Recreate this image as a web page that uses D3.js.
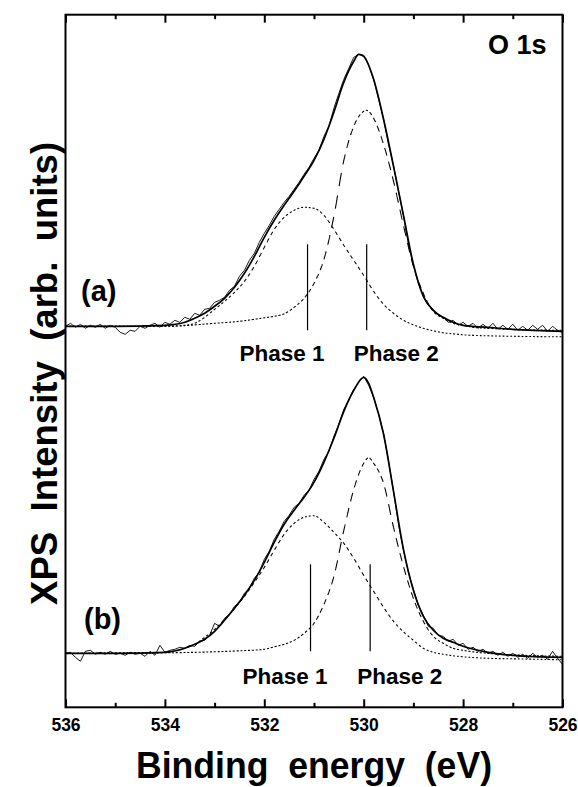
<!DOCTYPE html>
<html>
<head>
<meta charset="utf-8">
<script src="https://cdn.jsdelivr.net/npm/d3@7"></script>
<style>
  body { margin: 0; background: #fff; }
  svg { display: block; }
  text { font-family: "Liberation Sans", Arial, sans-serif; font-weight: bold; fill: #000; }
</style>
</head>
<body>
<div id="chart"></div>
<script>
// measured binding energies (eV)
var dataEnergy = [
  536.0,535.9,535.8,535.7,535.6,535.5,535.4,535.3,535.2,535.1,
  535.0,534.9,534.8,534.7,534.6,534.5,534.4,534.3,534.2,534.1,
  534.0,533.9,533.8,533.7,533.6,533.5,533.4,533.3,533.2,533.1,
  533.0,532.9,532.8,532.7,532.6,532.5,532.4,532.3,532.2,532.1,
  532.0,531.9,531.8,531.7,531.6,531.5,531.4,531.3,531.2,531.1,
  531.0,530.9,530.8,530.7,530.6,530.5,530.4,530.3,530.2,530.1,
  530.0,529.9,529.8,529.7,529.6,529.5,529.4,529.3,529.2,529.1,
  529.0,528.9,528.8,528.7,528.6,528.5,528.4,528.3,528.2,528.1,
  528.0,527.9,527.8,527.7,527.6,527.5,527.4,527.3,527.2,527.1,
  527.0,526.9,526.8,526.7,526.6,526.5,526.4,526.3,526.2,526.1,
  526.0
];

// raw spectra, intensity above each panel's baseline (arb. units)
var dataA = [
  0,3,-1,2,-2,1,-1,2,-2,1,
  -1,-6,-8,-4,-5,0,-2,1,3,-1,
  4,2,6,4,9,7,13,11,17,18,
  24,26,29,36,40,50,56,66,73,84,
  93,101,110,117,124,130,137,144,152,159,
  168,176,190,200,218,233,247,258,269,272,
  271,261,247,227,207,182,161,135,111,82,
  61,43,30,21,17,11,9,4,6,1,
  4,0,3,-2,2,-2,3,-3,1,-3,
  2,-4,0,-4,1,-3,1,-5,0,-4,
  -6
];
var dataB = [
  0,1,-4,-8,2,3,-1,1,-1,2,
  -1,0,-2,1,-1,0,-3,2,-2,8,
  1,3,4,6,5,8,7,12,13,18,
  30,27,35,39,47,51,60,65,75,81,
  94,102,114,122,132,138,146,150,158,163,
  174,182,194,202,217,229,244,253,264,271,
  277,268,256,239,220,192,162,129,103,81,
  64,48,38,27,25,18,17,12,14,8,
  10,4,6,2,4,0,2,-2,1,-3,
  0,-4,-1,-5,0,-4,-2,-6,2,-5,
  -11
];

// fitted curves [energy, intensity]
var envelopeA = [[536.0,0],[535.0,0],[534.0,1],[533.6,4],[533.4,8],[533.2,13],[533.0,20],[532.8,28],[532.6,39],[532.4,53],[532.2,70],[532.0,89],[531.8,106],[531.6,121],[531.4,135],[531.2,150],[531.0,166],[530.8,187],[530.6,214],[530.4,244],[530.2,265],[530.1,272],[530.0,270],[529.8,247],[529.6,207],[529.4,160],[529.2,111],[529.0,62],[528.8,30],[528.6,16],[528.4,9],[528.2,4],[528.0,1],[527.5,-1],[527.0,-3],[526.0,-5]];
var phase1A = [[536.0,0],[534.0,0],[533.6,1],[533.4,3],[533.2,9],[533.0,17],[532.8,25],[532.6,34],[532.4,45],[532.2,60],[532.0,79],[531.8,97],[531.6,109],[531.4,116],[531.2,119],[531.0,118],[530.8,111],[530.6,97],[530.4,81],[530.2,66],[530.0,51],[529.8,35],[529.6,22],[529.4,13],[529.2,6],[529.0,1.5],[528.8,-2],[528.6,-4.5],[528.4,-6.5],[528.2,-7.5],[528.0,-8.5],[527.5,-9.5],[527.0,-10],[526.0,-10.5]];
var phase2A = [[536.0,0],[534.0,0],[533.0,3],[532.5,5],[532.0,8.5],[531.8,10],[531.6,12.5],[531.4,19],[531.2,28],[531.0,43],[530.8,67],[530.6,110],[530.4,166],[530.2,200],[530.0,215],[529.95,216],[529.9,215],[529.8,208],[529.6,182],[529.4,145],[529.2,101],[529.0,60],[528.8,33],[528.6,15],[528.4,8],[528.2,3],[528.0,1],[527.8,-1],[527.5,-2],[527.0,-3.3],[526.0,-4]];

var envelopeB = [[536.0,0],[535.0,0],[534.0,1],[533.6,5],[533.4,9],[533.2,14],[533.0,22],[532.8,33],[532.6,45],[532.4,58],[532.2,73],[532.0,91],[531.8,111],[531.6,129],[531.4,143],[531.2,156],[531.0,171],[530.8,191],[530.6,215],[530.4,242],[530.2,263],[530.0,276],[529.9,270],[529.8,256],[529.6,219],[529.4,162],[529.2,104],[529.0,63],[528.8,37],[528.6,23],[528.4,15],[528.2,11],[528.0,7],[527.5,1],[527.0,-2],[526.0,-4]];
var phase1B = [[536.0,0],[534.4,0.5],[534.0,1],[533.6,5],[533.4,9],[533.2,16],[533.0,24],[532.8,34],[532.6,45],[532.4,57],[532.2,71],[532.0,86],[531.8,103],[531.6,119],[531.4,130],[531.2,136],[531.0,137.5],[530.8,131],[530.6,121],[530.4,110],[530.2,95],[530.0,78],[529.8,62],[529.6,46],[529.4,32],[529.2,21.5],[529.0,13],[528.8,5],[528.6,1],[528.4,-1],[528.2,-2.5],[528.0,-3.5],[527.5,-5],[527.0,-5.5],[526.0,-6.5]];
var phase2B = [[536.0,0],[534.0,0.5],[533.0,1.5],[532.5,2.5],[532.0,4],[531.8,6.5],[531.6,9],[531.4,13],[531.2,20],[531.0,30],[530.8,49],[530.6,77],[530.4,123],[530.2,164],[530.0,190],[529.9,195.6],[529.8,190],[529.6,170],[529.4,126],[529.2,87],[529.0,55],[528.8,32],[528.6,17],[528.4,10],[528.2,5],[528.0,3],[527.8,1.5],[527.5,0],[527.0,-1.5],[526.5,-2.5],[526.0,-3]];

// panel info
var panelNames = ["(a)", "(b)"];
var panelOffsets = [381, 54];
var phaseNames = ["Phase 1", "Phase 2"];
var phaseMarkersA = [531.13, 529.94];
var phaseMarkersB = [531.07, 529.87];
var markerSpans = [[-4, 82], [2, 89]];

// ticks
var majorTicks = [536, 534, 532, 530, 528, 526];
var minorTicks = [535, 533, 531, 529, 527];

var margin = { top: 14.7, right: 15.5, bottom: 79.7, left: 65.5 },
    width = 578 - margin.left - margin.right,
    height = 787 - margin.top - margin.bottom;

var svg = d3.select("#chart")
  .append("svg")
  .attr("width", 578)
  .attr("height", 787)
  .append("g")
  .attr("transform", "translate(" + margin.left + "," + margin.top + ")");

var x = d3.scaleLinear()
  .domain([536, 526])
  .range([0, width]);

var y = d3.scaleLinear()
  .domain([0, height])
  .range([height, 0]);

// draws a fit curve with dashes that repeat along x (as the original software did)
function xDashed(pts, offset, period, duty, sw) {
  var line = d3.line()
    .x(d => x(d[0]))
    .y(d => y(d[1] + offset))
    .curve(d3.curveMonotoneX);
  var path = svg.append("path")
    .attr("d", line(pts))
    .attr("fill", "none");
  var node = path.node();
  var total = node.getTotalLength();
  var d = "", on = false;
  for (var s = 0; s <= total; s += 0.25) {
    var p = node.getPointAtLength(s);
    var ph = (p.x % period) / period;
    if (ph < duty) {
      d += (on ? "L" : "M") + p.x.toFixed(2) + "," + p.y.toFixed(2);
      on = true;
    } else {
      on = false;
    }
  }
  path.attr("d", d)
    .attr("stroke", "#000")
    .attr("stroke-width", sw);
}

var panels = [
  { data: dataA, env: envelopeA, p1: phase1A, p2: phase2A, markers: phaseMarkersA },
  { data: dataB, env: envelopeB, p1: phase1B, p2: phase2B, markers: phaseMarkersB }
];

panels.forEach(function(pnl, k) {
  var off = panelOffsets[k];

  //components
  xDashed(pnl.p1, off, 3.8, 0.55, 1.1);
  xDashed(pnl.p2, off, 3.8, 0.6, 1.1);

  //fit envelope
  svg.append("path")
    .datum(pnl.env)
    .attr("fill", "none")
    .attr("stroke", "#000")
    .attr("stroke-width", 1.7)
    .attr("d", d3.line()
      .x(d => x(d[0]))
      .y(d => y(d[1] + off))
      .curve(d3.curveMonotoneX));

  //raw data
  svg.append("path")
    .datum(pnl.data)
    .attr("fill", "none")
    .attr("stroke", "#000")
    .attr("stroke-width", 0.9)
    .attr("d", d3.line()
      .x((d, i) => x(dataEnergy[i]))
      .y(d => y(d + off)));

  //phase markers
  svg.selectAll(null)
    .data(pnl.markers)
    .enter()
    .append("line")
    .attr("x1", d => x(d))
    .attr("x2", d => x(d))
    .attr("y1", y(markerSpans[k][0] + off))
    .attr("y2", y(markerSpans[k][1] + off))
    .attr("stroke", "#000")
    .attr("stroke-width", 1.2);

  //phase labels
  svg.selectAll(null)
    .data(pnl.markers)
    .enter()
    .append("text")
    .attr("x", (d, i) => i == 0 ? x(d) + 17 : x(d) - 13)
    .attr("y", y(off) + (k == 0 ? 35 : 31))
    .attr("text-anchor", (d, i) => i == 0 ? "end" : "start")
    .style("font-size", "22.5px")
    .text((d, i) => phaseNames[i]);

  //panel letter
  svg.append("text")
    .attr("x", k == 0 ? 15.5 : 18.5)
    .attr("y", y(off) - (k == 0 ? 25.5 : 24.5))
    .style("font-size", "29px")
    .text(panelNames[k]);
});

// frame
svg.append("rect")
  .attr("width", width)
  .attr("height", height)
  .attr("fill", "none")
  .attr("stroke", "#000")
  .attr("stroke-width", 2);

// bottom axis
var bottomAxis = svg.append("g")
  .attr("transform", "translate(0," + height + ")")
  .call(d3.axisBottom(x).tickValues(majorTicks).tickSize(-8).tickFormat(d3.format("d")));
var bottomMinor = svg.append("g")
  .attr("transform", "translate(0," + height + ")")
  .call(d3.axisBottom(x).tickValues(minorTicks).tickSize(-4.5).tickFormat(""));
bottomAxis.selectAll(".domain").remove();
bottomMinor.selectAll(".domain").remove();
bottomAxis.selectAll("line").attr("stroke-width", 2);
bottomMinor.selectAll("line").attr("stroke-width", 2);
bottomAxis.selectAll("text")
  .attr("y", 23.4)
  .attr("dy", 0)
  .style("font-size", "17.5px")
  .style("font-family", "'Liberation Sans', Arial, sans-serif")
  .style("font-weight", "bold");

// top axis
var topAxis = svg.append("g")
  .call(d3.axisTop(x).tickValues(majorTicks).tickSize(-8).tickFormat(""));
var topMinor = svg.append("g")
  .call(d3.axisTop(x).tickValues(minorTicks).tickSize(-4.5).tickFormat(""));
topAxis.selectAll(".domain").remove();
topMinor.selectAll(".domain").remove();
topAxis.selectAll("line").attr("stroke-width", 2);
topMinor.selectAll("line").attr("stroke-width", 2);

// O 1s
svg.append("text")
  .attr("x", 481)
  .attr("y", 39.6)
  .attr("text-anchor", "end")
  .style("font-size", "27px")
  .text("O 1s");

// axis titles
svg.append("text")
  .attr("x", width / 2)
  .attr("y", 778.5 - margin.top)
  .attr("text-anchor", "middle")
  .attr("textLength", 356)
  .attr("lengthAdjust", "spacingAndGlyphs")
  .style("font-size", "36px")
  .style("white-space", "pre")
  .text("Binding  energy  (eV)");

svg.append("text")
  .attr("transform", "translate(" + (57 - margin.left) + "," + (373.4 - margin.top) + ") rotate(-90)")
  .attr("text-anchor", "middle")
  .attr("textLength", 463)
  .attr("lengthAdjust", "spacingAndGlyphs")
  .style("font-size", "36.5px")
  .style("white-space", "pre")
  .text("XPS  Intensity  (arb.  units)");
</script>
</body>
</html>
